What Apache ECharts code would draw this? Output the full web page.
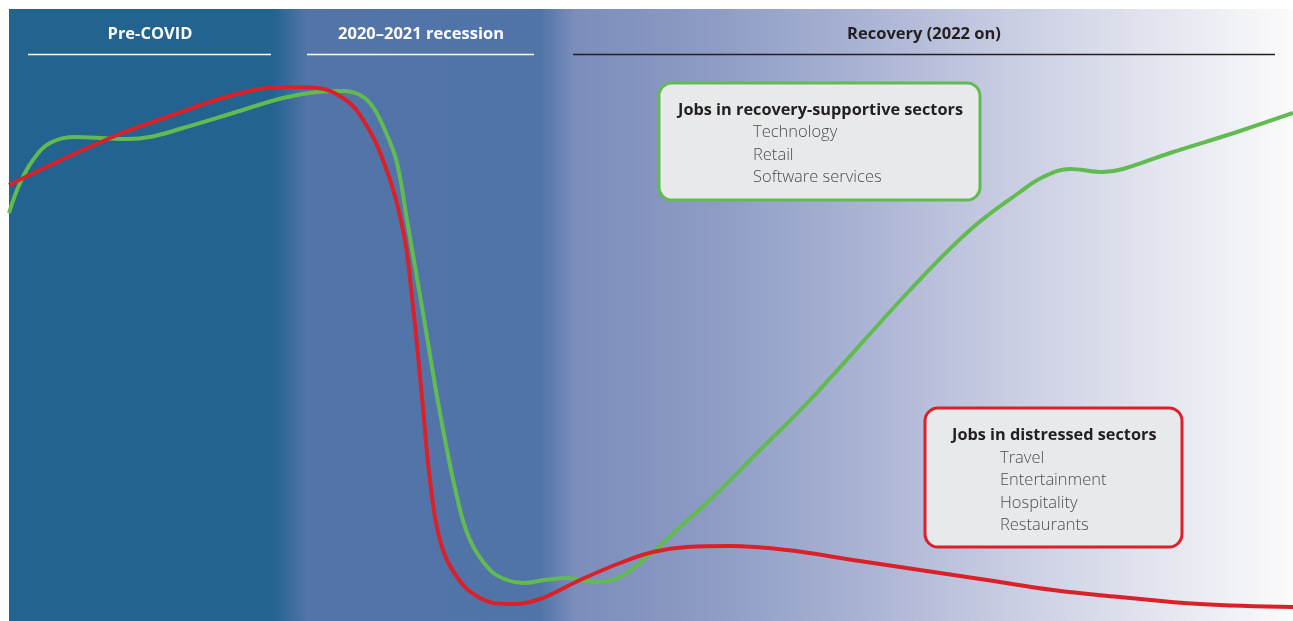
<!DOCTYPE html>
<html>
<head>
<meta charset="utf-8">
<script src="https://cdn.jsdelivr.net/npm/echarts@6/dist/echarts.min.js"></script>
<style>
  html, body { margin: 0; padding: 0; background: #fff; }
  #chart { width: 1293px; height: 621px; }
</style>
</head>
<body>
<div id="chart"></div>
<script>
// timeline position (0 = start, 1284 = end) and job level (0 = bottom, 612 = top)
var greenT = [0, 11, 24, 41, 68, 91, 118, 141, 174, 224, 274, 308, 334, 351, 364, 378, 388, 398, 414, 431, 448, 461, 481, 498, 514, 536, 558, 588, 611, 638, 671, 704, 751, 801, 901, 961, 1011, 1034, 1061, 1094, 1114, 1161, 1228, 1284]
var greenJobs = [408, 438, 461, 478, 484, 483, 482, 484, 493, 508, 523, 529, 530, 526, 514, 486, 458, 401, 308, 208, 124, 81, 51, 41, 38, 41, 43, 39, 44, 64, 94, 124, 171, 221, 331, 391, 429, 444, 452, 449, 452, 468, 489, 508]

var redT = [0, 101, 158, 224, 274, 308, 334, 351, 374, 394, 403, 413, 421, 431, 448, 471, 498, 528, 571, 611, 644, 678, 721, 778, 844, 911, 978, 1044, 1111, 1191, 1284]
var redJobs = [436, 483, 504, 526, 534, 533, 523, 506, 461, 391, 324, 224, 141, 81, 44, 23, 17, 21, 41, 58, 69, 74, 75, 71, 61, 51, 41, 31, 24, 17, 14]

var phases = ['Pre-COVID', '2020–2021 recession', 'Recovery (2022 on)']
var goodSectors = ['Technology', 'Retail', 'Software services']
var badSectors = ['Travel', 'Entertainment', 'Hospitality', 'Restaurants']

function pairs(xs, ys) {
  return xs.map(function (x, i) { return [x, ys[i]] })
}

var font = '"Open Sans", Lato, sans-serif'

function header(text, cx, color, x1, x2) {
  return [
    { type: 'text', x: cx, y: 34, style: { text: text, fill: color, font: 'bold 16.5px ' + font, textAlign: 'center', textVerticalAlign: 'middle' } },
    { type: 'line', shape: { x1: x1, y1: 54.5, x2: x2, y2: 54.5 }, style: { stroke: color, lineWidth: 1.5 } }
  ]
}

function box(left, top, w, h, border, title, titleX, items, itemX, firstY) {
  var els = [
    { type: 'rect', shape: { x: left, y: top, width: w, height: h, r: 13 }, style: { fill: '#e8e9eb', stroke: border, lineWidth: 3 } },
    { type: 'text', x: titleX, y: firstY - 22.5, style: { text: title, fill: '#231f20', font: 'bold 16.3px ' + font, textVerticalAlign: 'middle' } }
  ]
  items.forEach(function (it, i) {
    els.push({ type: 'text', x: itemX, y: firstY + i * 22.5, style: { text: it, fill: '#4d4d4f', font: '300 16.5px ' + font, textVerticalAlign: 'middle' } })
  })
  return els
}

var bg = new echarts.graphic.LinearGradient(0, 0, 1, 0, [
  { offset: 0, color: '#22638f' },
  { offset: 0.205, color: '#22638f' },
  { offset: 0.232, color: '#5274a8' },
  { offset: 0.414, color: '#5174a8' },
  { offset: 0.44, color: '#7b8dbb' },
  { offset: 0.55, color: '#8e9cc5' },
  { offset: 0.67, color: '#abb4d4' },
  { offset: 0.77, color: '#c6cbe1' },
  { offset: 0.89, color: '#e2e4ee' },
  { offset: 1, color: '#fbfbfc' }
])

var graphics = [
  { type: 'rect', z: -10, shape: { x: 9, y: 9, width: 1284, height: 612 }, style: { fill: bg }, silent: true }
]
graphics = graphics
  .concat(header(phases[0], 150, '#ffffff', 28, 271))
  .concat(header(phases[1], 421, '#ffffff', 307, 534))
  .concat(header(phases[2], 924, '#231f20', 573, 1275))
  .concat(box(659, 83, 321, 117, '#62bb50', 'Jobs in recovery-supportive sectors', 678, goodSectors, 753, 132.5))
  .concat(box(925, 408, 257, 139, '#da2129', 'Jobs in distressed sectors', 952, badSectors, 1000, 458))

var myChart = echarts.init(document.getElementById('chart'))
myChart.setOption({
  animation: false,
  grid: { left: 9, right: 0, top: 9, bottom: 0 },
  xAxis: { type: 'value', min: 0, max: 1284, show: false },
  yAxis: { type: 'value', min: 0, max: 612, show: false, splitLine: { show: false } },
  graphic: graphics,
  series: [
    {
      name: 'Jobs in recovery-supportive sectors',
      type: 'line',
      data: pairs(greenT, greenJobs),
      smooth: 0.4,
      symbol: 'none',
      z: 3,
      lineStyle: { color: '#62bb50', width: 4 }
    },
    {
      name: 'Jobs in distressed sectors',
      type: 'line',
      data: pairs(redT, redJobs),
      smooth: 0.4,
      symbol: 'none',
      z: 4,
      lineStyle: { color: '#da2129', width: 4 }
    }
  ]
})
</script>
</body>
</html>
